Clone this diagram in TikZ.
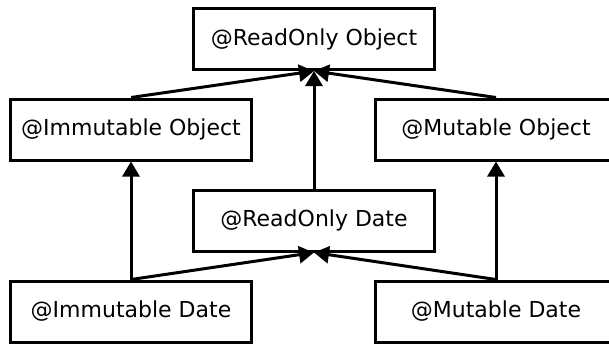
\documentclass[tikz,border=0pt]{standalone}
\usepackage{fontspec}
\setmainfont{DejaVu Sans}
\usetikzlibrary{arrows.meta}
\begin{document}
\begin{tikzpicture}[x=1pt,y=-1pt,
  box/.style={draw, line width=3pt, minimum width=241pt, minimum height=61pt, inner sep=0pt, font=\fontsize{22}{26}\selectfont},
  conn/.style={line width=3pt, -{Triangle[length=15pt,width=17pt]}}]
\clip (0,0) rectangle (609,346);
\node[box] (ro)  at (314,39)    {@ReadOnly Object};
\node[box] (imo) at (131,129.5) {@Immutable Object};
\node[box] (mo)  at (496,129.5) {@Mutable Object};
\node[box] (rd)  at (314,220.5) {@ReadOnly Date};
\node[box] (imd) at (131,311.5) {@Immutable Date};
\node[box] (md)  at (496,311.5) {@Mutable Date};
\draw[conn] (imo.north) -- (ro.south);
\draw[conn] (mo.north) -- (ro.south);
\draw[conn] (rd.north) -- (ro.south);
\draw[conn] (imd.north) -- (imo.south);
\draw[conn] (md.north) -- (mo.south);
\draw[conn] (imd.north) -- (rd.south);
\draw[conn] (md.north) -- (rd.south);
\end{tikzpicture}
\end{document}
